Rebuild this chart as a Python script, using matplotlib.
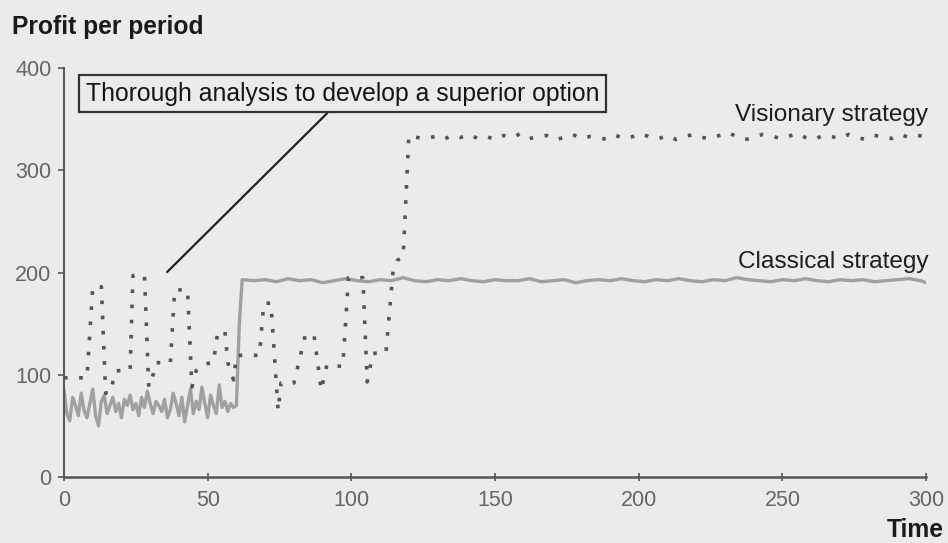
import matplotlib.pyplot as plt

# classical strategy: noisy low phase, then step up at t=61
classical_t = list(range(0, 61)) + [61, 62] + list(range(66, 299, 4)) + [300]
classical_v = [85, 62, 55, 78, 70, 60, 82, 65, 58, 72, 86, 60, 50, 74, 80, 62, 70, 78, 64, 72,
               58, 76, 70, 80, 66, 72, 60, 78, 68, 84, 72, 62, 74, 70, 64, 76, 58, 66, 82, 72,
               60, 78, 54, 70, 86, 62, 74, 66, 88, 72, 58, 80, 70, 62, 90, 68, 74, 64, 72, 68,
               70, 150, 193,
               192, 193, 191, 194, 192, 193, 190, 192, 194, 192, 191, 193, 192, 195, 192, 191,
               193, 192, 194, 192, 191, 193, 192, 192, 194, 191, 192, 193, 190, 192, 193, 192,
               194, 192, 191, 193, 192, 194, 192, 191, 193, 192, 195, 193, 192, 191, 193, 192,
               194, 192, 191, 193, 192, 193, 191, 192, 193, 194, 192, 190]

# visionary strategy: experimenting spikes, then jump to superior option
visionary_t = [0, 8, 10, 13, 14.5, 16, 18, 23, 24, 28, 29.5, 31, 32, 37, 38.5, 43, 44.5, 46,
               48, 52, 53.5, 56, 57, 59, 60, 62, 68, 69.5, 72, 74.5, 75.5, 80, 84, 87, 89.5,
               91.5, 97, 99, 104, 105.5, 107.5, 112, 114.5, 116, 118, 120,
               123, 126, 129, 132, 135, 138, 141, 144, 147, 150, 153, 156, 159, 162, 165, 168,
               171, 174, 177, 180, 183, 186, 189, 192, 195, 198, 201, 204, 207, 210, 213, 216,
               219, 222, 225, 228, 231, 234, 237, 240, 243, 246, 249, 252, 255, 258, 261, 264,
               267, 270, 273, 276, 279, 282, 285, 288, 291, 294, 297, 300]
visionary_v = [97, 97, 186, 186, 82, 82, 104, 104, 197, 197, 88, 100, 112, 111, 183, 183, 88, 104,
               110, 112, 142, 142, 112, 95, 119, 119, 119, 170, 170, 65, 92, 92, 139, 139, 85,
               110, 108, 195, 195, 93, 121, 121, 202, 212, 215, 334,
               332, 331, 333, 330, 334, 332, 335, 331, 333, 330, 334, 332, 336, 331, 333, 334,
               330, 332, 335, 331, 333, 332, 330, 334, 331, 333, 336, 332, 331, 334, 330, 333,
               335, 332, 331, 334, 337, 333, 330, 332, 335, 334, 331, 333, 336, 332, 330, 334,
               333, 331, 335, 332, 330, 334, 333, 331, 335, 332, 334, 333]

x_ticks = [0, 50, 100, 150, 200, 250, 300]
y_ticks = [0, 100, 200, 300, 400]

bg = '#ebebeb'
plt.rcParams['font.family'] = ['Liberation Sans', 'DejaVu Sans']

fig = plt.figure(figsize=(9.48, 5.43), dpi=100, facecolor=bg)
ax = fig.add_axes([0.0675, 0.1215, 0.9095, 0.7533])
ax.set_facecolor(bg)

ax.plot(classical_t, classical_v, color='#a0a0a0', linewidth=2.4, solid_joinstyle='round')
ax.plot(visionary_t, visionary_v, color='#555555', linewidth=2.6,
        linestyle=(0, (1.0, 3.2)), dash_capstyle='butt')

ax.set_xlim(0, 300)
ax.set_ylim(0, 400)
ax.set_xticks(x_ticks)
ax.set_yticks(y_ticks)

for side in ['top', 'right']:
    ax.spines[side].set_visible(False)
for side in ['left', 'bottom']:
    ax.spines[side].set_color('#555555')
    ax.spines[side].set_linewidth(1.8)
ax.spines['left'].set_linewidth(1.4)

ax.tick_params(axis='both', colors='#555555', labelcolor='#666666', labelsize=15.5, width=1.2)
ax.tick_params(axis='x', direction='inout', length=6, pad=6)
ax.tick_params(axis='y', direction='out', length=4, pad=5)

fig.text(0.013, 0.95, 'Profit per period', fontsize=17.7, fontweight='bold',
         color='#1a1a1a', ha='left', va='center')
fig.text(0.995, 0.024, 'Time', fontsize=17.7, fontweight='bold',
         color='#1a1a1a', ha='right', va='center')

ax.text(300.7, 354, 'Visionary strategy', fontsize=17.6, color='#1e1e1e', ha='right', va='center')
ax.text(300.7, 210, 'Classical strategy', fontsize=17.6, color='#1e1e1e', ha='right', va='center')

ax.annotate('Thorough analysis to develop a superior option',
            xy=(35.9, 200.5), xytext=(7.6, 375),
            fontsize=17.8, color='#151515', ha='left', va='center',
            bbox=dict(boxstyle='square,pad=0.28', facecolor=bg, edgecolor='#333333', linewidth=1.6),
            arrowprops=dict(arrowstyle='-', color='#222222', linewidth=1.6,
                            relpos=(0.485, 0.0), shrinkA=0, shrinkB=0))

fig.savefig('out.png', dpi=100, facecolor=bg)
